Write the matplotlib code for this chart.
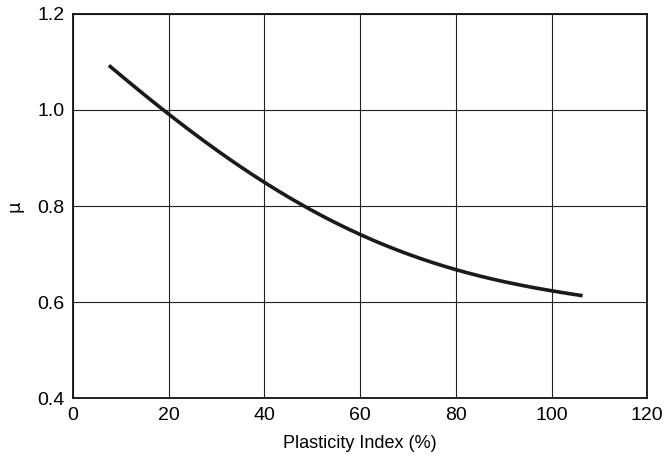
import matplotlib
matplotlib.use("Agg")
import matplotlib.pyplot as plt
import numpy as np

pi_vals = [7.5, 10, 15, 20, 30, 40, 50, 60, 70, 80, 90, 100, 106.5]
mu_vals = [1.091, 1.072, 1.033, 0.993, 0.915, 0.847, 0.790, 0.743, 0.701, 0.667, 0.642, 0.623, 0.614]
xticks = [0, 20, 40, 60, 80, 100, 120]
yticks = [0.4, 0.6, 0.8, 1.0, 1.2]

plt.rcParams['font.family'] = ['Liberation Sans Narrow', 'Liberation Sans', 'DejaVu Sans']

fig = plt.figure(figsize=(6.7, 4.63), dpi=100)
ax = fig.add_axes([0.109, 0.140, 0.857, 0.830])

# smooth curve through read points
from numpy.polynomial import polynomial as P
coef = np.polyfit(pi_vals, mu_vals, 4)
xs = np.linspace(pi_vals[0], pi_vals[-1], 200)
ax.plot(xs, np.polyval(coef, xs), color='#1a1a1a', lw=2.6, solid_capstyle='butt')

ax.set_xlim(0, 120)
ax.set_ylim(0.4, 1.2)
ax.set_xticks(xticks)
ax.set_yticks(yticks)
ax.set_xticklabels([str(t) for t in xticks])
ax.set_yticklabels([f"{t:.1f}" for t in yticks])
ax.grid(True, color='#222222', lw=0.8)
ax.set_axisbelow(True)
ax.tick_params(length=0, labelsize=14, pad=6)
for s in ax.spines.values():
    s.set_linewidth(1.3)
    s.set_color('#111111')
ax.set_xlabel('Plasticity Index (%)', fontsize=13, labelpad=8)
ax.set_ylabel('μ', fontsize=13, labelpad=10, family='DejaVu Sans')

fig.savefig('out.png', dpi=100)
